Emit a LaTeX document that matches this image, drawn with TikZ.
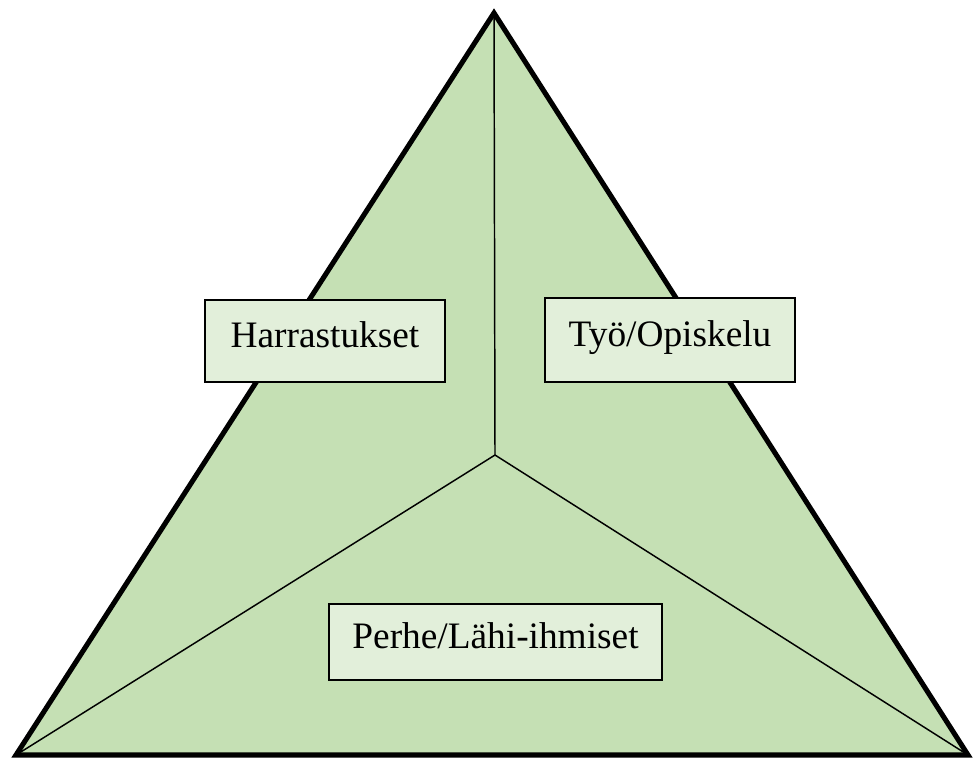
\documentclass[tikz,border=0pt]{standalone}
\usepackage{fontspec}
\setmainfont{Liberation Serif}
\usetikzlibrary{positioning}
\definecolor{trigreen}{RGB}{197,224,180}
\definecolor{boxgreen}{RGB}{226,239,218}
\tikzset{
  outline/.style={draw=black, fill=trigreen, line width=3.8pt, line join=miter},
  divider/.style={draw=black, line width=1.1pt},
  areabox/.style={rectangle, draw=black, fill=boxgreen, line width=1.1pt,
    font=\fontsize{28}{33}\selectfont, inner sep=0pt,
    text height=18pt, text depth=9pt}
}
\begin{document}
\begin{tikzpicture}[x=0.75pt, y=-0.75pt]
  \useasboundingbox (0,0) rectangle (974,761);

  % Corners and centre of the triangle
  \coordinate (top) at (494,13);
  \coordinate (left) at (16,755);
  \coordinate (right) at (968,755);
  \coordinate (mid) at (495,455);

  % Triangle
  \draw[outline] (top) -- (left) -- (right) -- cycle;

  % Dividers
  \draw[divider] (mid) -- (top);
  \draw[divider] (mid) -- (left);
  \draw[divider] (mid) -- (right);

  % Areas
  \node[areabox, minimum width=240*0.75pt, minimum height=82*0.75pt] (hobby) at (325,341) {Harrastukset};
  \node[areabox, minimum width=250*0.75pt, minimum height=84*0.75pt] (work) at (670,340) {Työ/Opiskelu};
  \node[areabox, minimum width=333*0.75pt, minimum height=76*0.75pt] (family) at (495.5,642) {Perhe/Lähi-ihmiset};
\end{tikzpicture}
\end{document}
